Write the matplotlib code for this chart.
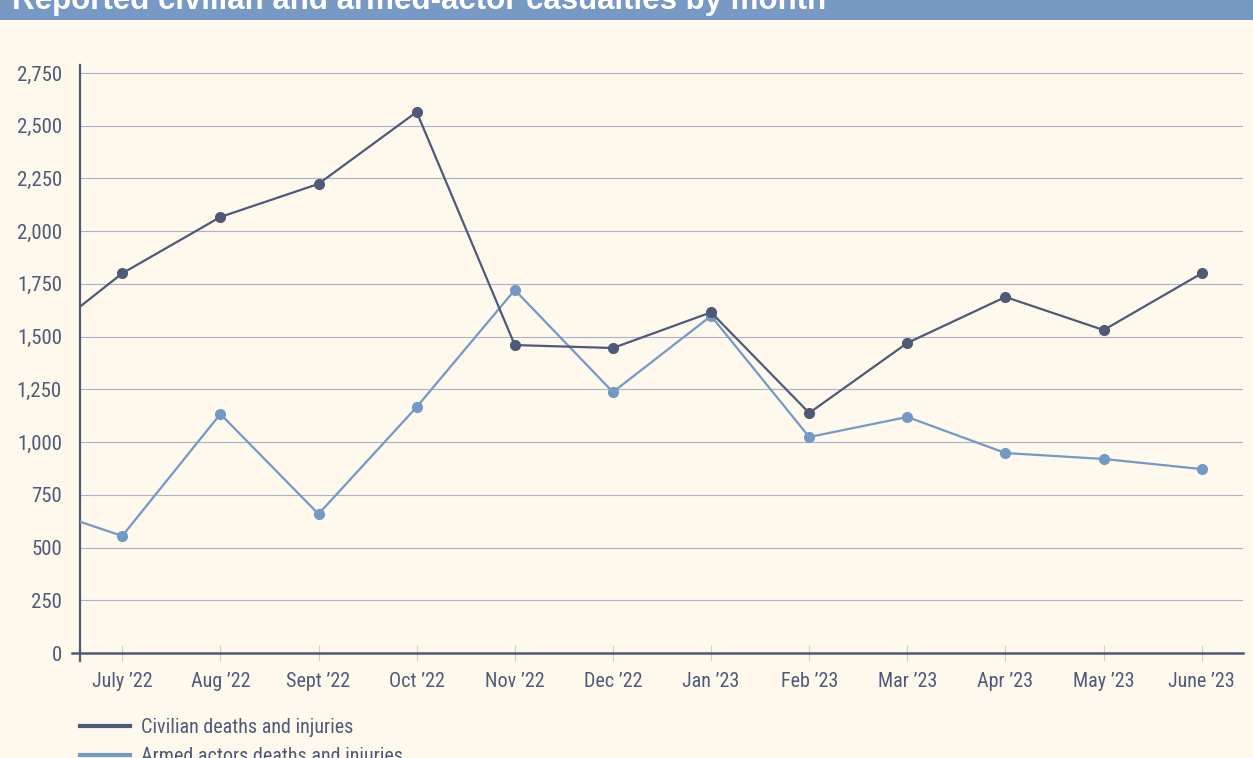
import matplotlib
matplotlib.use('Agg')
import matplotlib.pyplot as plt
from matplotlib import font_manager
from matplotlib.patches import Rectangle
from matplotlib.ticker import FuncFormatter

# months shown on the axis; the June '22 point sits just off the left edge
MONTHS = ["June '22", "July \u201922", "Aug \u201922", "Sept \u201922", "Oct \u201922", "Nov \u201922",
          "Dec \u201922", "Jan \u201923", "Feb \u201923", "Mar \u201923", "Apr \u201923",
          "May \u201923", "June \u201923"]
CIVILIAN = [1433, 1800, 2067, 2224, 2565, 1460, 1446, 1615, 1138, 1470, 1688, 1531, 1800]
ARMED = [712, 555, 1133, 659, 1166, 1721, 1237, 1598, 1024, 1119, 948, 920, 872]

BG = '#fef9ec'
DARK = '#4f5a78'
LIGHT = '#7399c6'
GRID = '#adb0c7'

available = {f.name for f in font_manager.fontManager.ttflist}
narrow = 'Roboto Condensed' if 'Roboto Condensed' in available else 'DejaVu Sans'

fig = plt.figure(figsize=(12.53, 7.58), dpi=100, facecolor=BG)
ax = fig.add_axes([0.0638, 0.1385, 0.9282, 0.7764])
ax.set_facecolor(BG)

xs = list(range(-1, len(MONTHS) - 1))
ax.plot(xs, CIVILIAN, color=DARK, lw=1.6, marker='o', ms=7, label='Civilian deaths and injuries', zorder=4)
ax.plot(xs, ARMED, color=LIGHT, lw=1.6, marker='o', ms=7, label='Armed actors deaths and injuries', zorder=3)

ax.set_xlim(-0.431, 11.42)
ax.set_ylim(0, 2790)
ax.set_yticks(range(0, 2751, 250))
ax.yaxis.set_major_formatter(FuncFormatter(lambda v, p: f'{int(v):,}'))
ax.set_xticks(xs[1:])
ax.set_xticklabels(MONTHS[1:])
ax.grid(axis='y', color=GRID, lw=0.8)
ax.set_axisbelow(True)

for s in ['top', 'right']:
    ax.spines[s].set_visible(False)
ax.spines['left'].set_color(DARK)
ax.spines['left'].set_linewidth(1.6)
ax.spines['left'].set_bounds(-40, 2790)
ax.spines['bottom'].set_color(DARK)
ax.spines['bottom'].set_linewidth(1.8)
ax.spines['bottom'].set_bounds(-0.51, 11.42)

ax.tick_params(axis='y', length=0, pad=13, labelsize=15, labelcolor=DARK)
ax.tick_params(axis='x', direction='inout', length=12, width=0.8, color='#cfcfd6',
               pad=7.5, labelsize=14.5, labelcolor=DARK)
for lab in ax.get_xticklabels() + ax.get_yticklabels():
    lab.set_fontfamily(narrow)

leg = ax.legend(loc='upper left', bbox_to_anchor=(0.0, -0.111), frameon=False,
                handlelength=2.5, handletextpad=0.55, labelspacing=0.5,
                prop={'family': narrow, 'size': 14.5}, borderaxespad=0, borderpad=0)
for t in leg.get_texts():
    t.set_color(DARK)
for h in leg.legend_handles:
    h.set_marker('')
    h.set_linewidth(3)

# title bar, cut off at the top
fig.patches.append(Rectangle((0, 0.9736), 1, 0.03, transform=fig.transFigure,
                             facecolor='#7799c4', edgecolor='none'))
fig.text(0.0096, 0.9881, 'Reported civilian and armed-actor casualties by month',
         color='white', fontsize=22.5, fontweight='bold', va='baseline', ha='left',
         family='Liberation Sans')

fig.savefig('out.png', dpi=100, facecolor=BG)
